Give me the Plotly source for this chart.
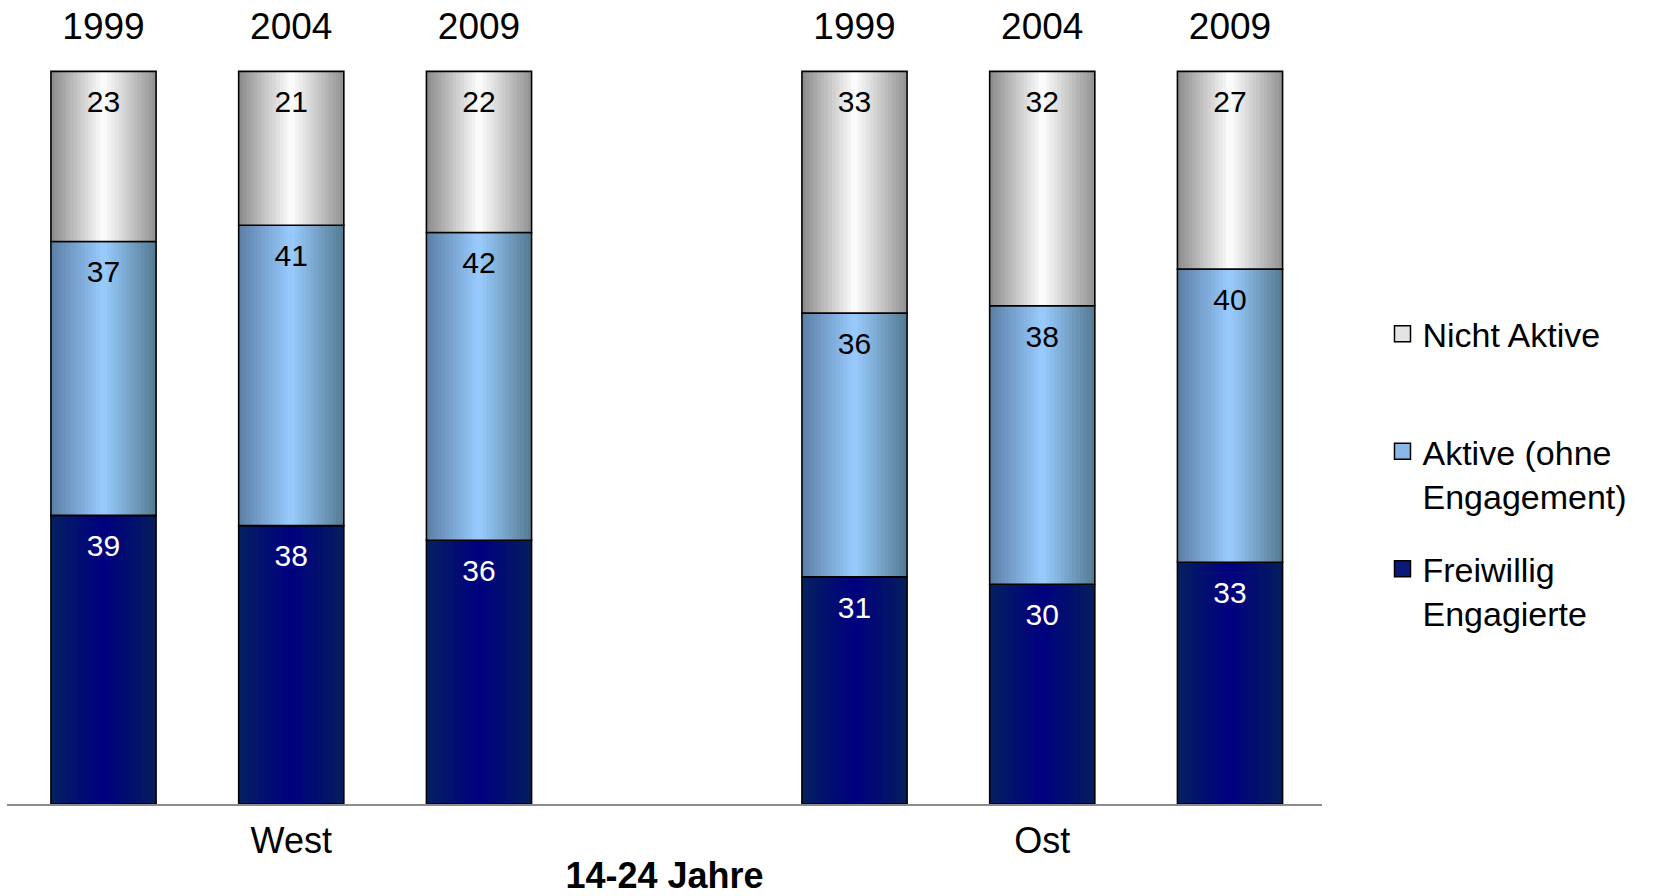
import plotly.graph_objects as go

# ---------------- data ----------------
regions = ["West", "Ost"]
years = ["1999", "2004", "2009", "1999", "2004", "2009"]
x_pos = [0, 1, 2, 4, 5, 6]
region_ticks = [1, 5]
freiwillig = [39, 38, 36, 31, 30, 33]
aktive = [37, 41, 42, 36, 38, 40]
nicht_aktive = [23, 21, 22, 33, 32, 27]
axis_title = "14-24 Jahre"

series = [
    ("Freiwillig<br>Engagierte", freiwillig,
     [(0.0, (5, 32, 96)), (0.5, (0, 0, 128)), (1.0, (5, 30, 92))], "white"),
    ("Aktive (ohne<br>Engagement)", aktive,
     [(0.0, (92, 126, 165)), (0.5, (153, 204, 255)), (1.0, (85, 122, 145))], "black"),
    ("Nicht Aktive<br> ", nicht_aktive,
     [(0.0, (138, 138, 138)), (0.5, (255, 255, 255)), (1.0, (145, 145, 145))], "black"),
]
legend_colors = ["#0a1a78", "#8ab8e8", "#e4e4e4"]

totals = [a + b + c for a, b, c in zip(freiwillig, aktive, nicht_aktive)]

BAR_W = 0.56
N_STRIPS = 28
REG = "Liberation Sans, Arial, sans-serif"


def grad_color(stops, t):
    for (t0, c0), (t1, c1) in zip(stops[:-1], stops[1:]):
        if t0 <= t <= t1:
            f = (t - t0) / (t1 - t0) if t1 > t0 else 0
            return "rgb(%d,%d,%d)" % tuple(round(a + (b - a) * f) for a, b in zip(c0, c1))
    return "rgb(%d,%d,%d)" % stops[-1][1]


fig = go.Figure()
bases = [0.0] * len(x_pos)
label_traces = []
legend_traces = []
dw = BAR_W / N_STRIPS
for i, (name, vals, stops, tcol) in enumerate(series):
    heights = [v / t * 100 for v, t in zip(vals, totals)]
    for k in range(N_STRIPS):
        off = -BAR_W / 2 + k * dw
        w = min(dw * 1.6, BAR_W / 2 - off)
        t = (k + 0.5) / N_STRIPS
        fig.add_trace(go.Bar(
            x=x_pos, y=heights, base=bases, width=w, offset=off,
            marker=dict(color=grad_color(stops, t), line=dict(width=0)),
            showlegend=False, hoverinfo="skip",
        ))
    # outline
    fig.add_trace(go.Bar(
        x=x_pos, y=heights, base=bases, width=BAR_W,
        marker=dict(color="rgba(0,0,0,0)", line=dict(color="black", width=1.6)),
        showlegend=False, hoverinfo="skip",
    ))
    tops = [b + h for b, h in zip(bases, heights)]
    label_traces.append(go.Scatter(
        x=x_pos, y=[tp - 4.55 for tp in tops], mode="text",
        text=[str(v) for v in vals],
        textfont=dict(size=30, color=tcol, family=REG),
        showlegend=False, hoverinfo="skip",
    ))
    legend_traces.append(go.Scatter(
        x=[None], y=[None], name=name, mode="markers", legendgroup="g%d" % i,
        marker=dict(symbol="square", size=16, color=legend_colors[i],
                    line=dict(color="black", width=1.5)),
    ))
    bases = tops

for tr in label_traces:
    fig.add_trace(tr)
for tr in reversed(legend_traces):
    fig.add_trace(tr)

# dummy trace for the top axis
fig.add_trace(go.Scatter(x=x_pos, y=[None] * len(x_pos), xaxis="x2",
                         showlegend=False, hoverinfo="skip"))

XR = [-0.514, 6.49]
fig.update_layout(
    width=1663, height=896,
    margin=dict(l=7, r=341, t=64, b=92),
    barmode="overlay",
    plot_bgcolor="white", paper_bgcolor="white",
    font=dict(family=REG, color="black"),
    xaxis=dict(
        range=XR, tickvals=region_ticks, ticktext=regions,
        tickfont=dict(size=36), showgrid=False, zeroline=False,
        showline=True, linecolor="#8c8c8c", linewidth=2, ticks="",
        ticklabelstandoff=4, automargin=False,
        title=dict(text="<b>" + axis_title + "</b>", font=dict(size=36),
                   standoff=7),
    ),
    xaxis2=dict(
        range=XR, overlaying="x", side="top", tickvals=x_pos, ticktext=years,
        tickfont=dict(size=37), showgrid=False, zeroline=False, showline=False, ticks="",
        ticklabelstandoff=17, automargin=False,
    ),
    yaxis=dict(range=[0, 101], visible=False, showgrid=False, zeroline=False,
               automargin=False),
    legend=dict(
        x=1.046, xanchor="left", y=0.674, yanchor="top",
        font=dict(size=34), valign="top", tracegroupgap=26,
        itemsizing="trace", bgcolor="rgba(0,0,0,0)",
    ),
    showlegend=True,
)

fig.write_html("out.html", config={"displayModeBar": False},
               post_script="document.body.style.margin='0';document.body.style.overflow='hidden';")
